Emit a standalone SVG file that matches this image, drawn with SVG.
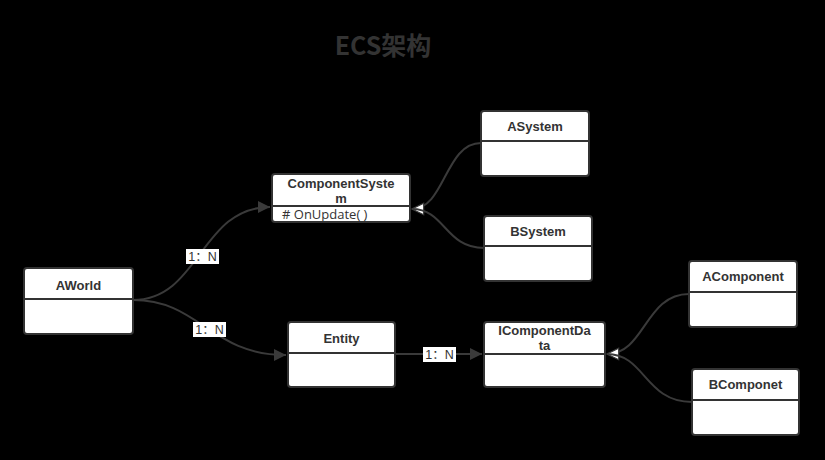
<svg xmlns="http://www.w3.org/2000/svg" width="825" height="460" viewBox="0 0 825 460">
<defs>
<style>
.box{fill:#fff;stroke:#333;stroke-width:2}
.div{stroke:#333;stroke-width:2}
.name{font-family:"Liberation Sans","Open Sans",sans-serif;font-weight:bold;font-size:13px;fill:#333;text-anchor:middle}
.op{font-family:"Open Sans","Noto Sans","Liberation Sans",sans-serif;font-size:13px;fill:#333}
.edge{fill:none;stroke:#3a3a3a;stroke-width:2}
.lbl{font-family:"Liberation Sans","Noto Sans CJK SC",sans-serif;font-size:12.5px;fill:#333;text-anchor:middle}
.lblbg{fill:#fff}
</style>
<marker id="arrow" viewBox="0 0 10 10" refX="10" refY="5" markerWidth="6" markerHeight="6" markerUnits="strokeWidth" orient="auto">
<path d="M0,0 L10,5 L0,10 z" fill="#3a3a3a"/>
</marker>
<marker id="hollow" viewBox="0 0 12 12" refX="11" refY="6" markerWidth="7" markerHeight="7" markerUnits="strokeWidth" orient="auto">
<path d="M1,1 L11,6 L1,11 z" fill="#fff" stroke="#3a3a3a" stroke-width="1"/>
</marker>
</defs>
<rect width="825" height="460" fill="#000"/>
<text x="383" y="55" font-family="'Noto Sans CJK SC','Noto Sans',sans-serif" font-size="25" font-weight="bold" fill="#333" text-anchor="middle">ECS架构</text>

<g id="connectors">
<path class="edge" d="M133,300 C200,300 200,207 270,207" marker-end="url(#arrow)"/>
<path class="edge" d="M133,300 C200,300 210,355 286,355" marker-end="url(#arrow)"/>
<path class="edge" d="M395,354 L482,354" marker-end="url(#arrow)"/>
<path class="edge" d="M481,143 C445,143 445,209 412,209" marker-end="url(#hollow)"/>
<path class="edge" d="M484,248 C445,248 445,209 412,209"/>
<path class="edge" d="M689,294 C645,294 645,354 607,354" marker-end="url(#hollow)"/>
<path class="edge" d="M692,402 C645,402 645,354 607,354"/>
<rect class="lblbg" x="186" y="249" width="33" height="15"/>
<text class="lbl" x="202.5" y="261">1：N</text>
<rect class="lblbg" x="193" y="322" width="33" height="15"/>
<text class="lbl" x="209.5" y="334">1：N</text>
<rect class="lblbg" x="423" y="347" width="33" height="15"/>
<text class="lbl" x="439.5" y="359">1：N</text>
</g>

<g id="AWorld">
<rect class="box" x="24" y="268" width="109" height="66" rx="3"/>
<line class="div" x1="24" y1="299" x2="133" y2="299"/>
<text class="name" x="78.5" y="290">AWorld</text>
</g>
<g id="ComponentSystem">
<rect class="box" x="272" y="174" width="138" height="48" rx="3"/>
<line class="div" x1="272" y1="206" x2="410" y2="206"/>
<text class="name" x="341" y="188">ComponentSyste</text>
<text class="name" x="341" y="203">m</text>
<text class="op" x="282" y="219"># OnUpdate( )</text>
</g>
<g id="ASystem">
<rect class="box" x="481" y="111" width="108" height="65" rx="3"/>
<line class="div" x1="481" y1="141" x2="589" y2="141"/>
<text class="name" x="535" y="131">ASystem</text>
</g>
<g id="BSystem">
<rect class="box" x="484" y="216" width="108" height="65" rx="3"/>
<line class="div" x1="484" y1="246" x2="592" y2="246"/>
<text class="name" x="538" y="236">BSystem</text>
</g>
<g id="Entity">
<rect class="box" x="288" y="322" width="107" height="65" rx="3"/>
<line class="div" x1="288" y1="353" x2="395" y2="353"/>
<text class="name" x="341.5" y="343">Entity</text>
</g>
<g id="IComponentData">
<rect class="box" x="484" y="322" width="121" height="65" rx="3"/>
<line class="div" x1="484" y1="354" x2="605" y2="354"/>
<text class="name" x="544.5" y="335">IComponentDa</text>
<text class="name" x="544.5" y="350">ta</text>
</g>
<g id="AComponent">
<rect class="box" x="689" y="261" width="108" height="66" rx="3"/>
<line class="div" x1="689" y1="292" x2="797" y2="292"/>
<text class="name" x="743" y="281">AComponent</text>
</g>
<g id="BComponet">
<rect class="box" x="692" y="369" width="107" height="66" rx="3"/>
<line class="div" x1="692" y1="400" x2="799" y2="400"/>
<text class="name" x="745.5" y="389">BComponet</text>
</g>
</svg>
